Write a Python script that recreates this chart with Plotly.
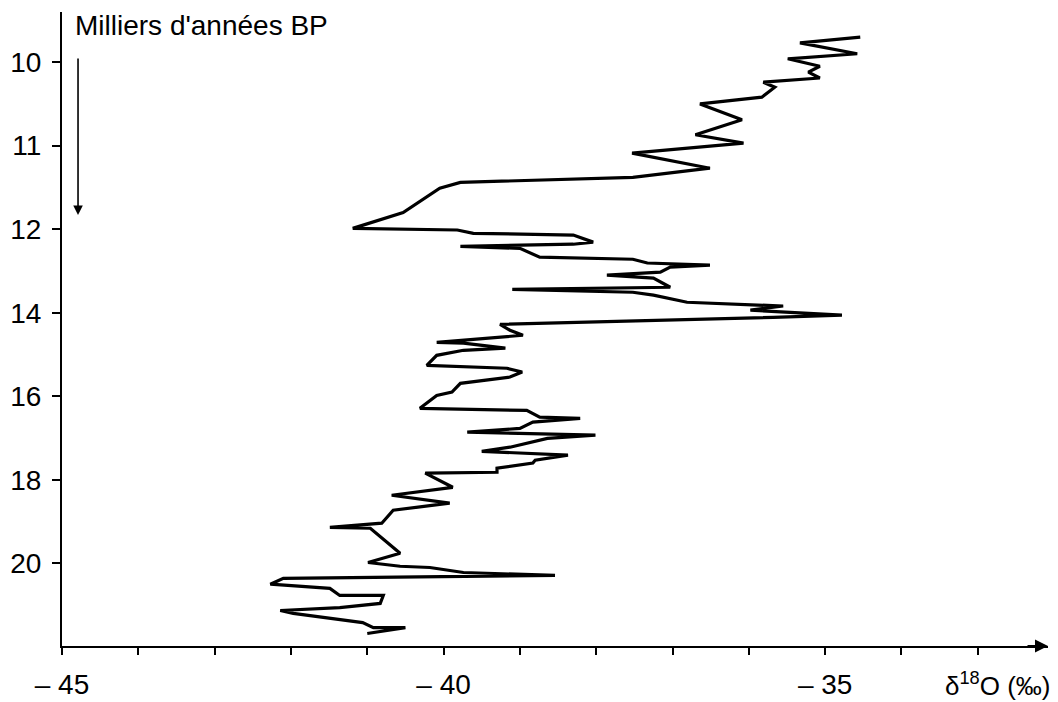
import plotly.graph_objects as go

# Age (thousands of years BP) and delta-18O (permil), top to bottom
age_ka = [
    9.70, 9.77, 9.90, 9.96, 10.05, 10.12, 10.19, 10.24, 10.30, 10.42,
    10.50, 10.69, 10.87, 10.97, 11.09, 11.27, 11.38, 11.44, 11.51, 11.80,
    11.99, 12.02, 12.10, 12.14, 12.31, 12.36, 12.41, 12.46, 12.67, 12.72,
    12.81, 12.86, 12.91, 13.03, 13.10, 13.17, 13.39, 13.44, 13.51, 13.58,
    13.75, 13.82, 13.84, 13.94, 14.06, 14.11, 14.28, 14.42, 14.54, 14.71,
    14.73, 14.85, 14.90, 15.02, 15.26, 15.33, 15.42, 15.54, 15.69, 15.90,
    15.98, 16.29, 16.34, 16.50, 16.53, 16.62, 16.77, 16.86, 16.89, 16.93,
    17.01, 17.22, 17.32, 17.37, 17.41, 17.53, 17.60, 17.72, 17.82, 17.84,
    18.18, 18.37, 18.56, 18.73, 19.04, 19.14, 19.16, 19.76, 19.98, 20.07,
    20.10, 20.22, 20.29, 20.36, 20.50, 20.60, 20.77, 20.77, 20.96, 21.06,
    21.13, 21.20, 21.42, 21.54, 21.54, 21.68,
]
d18o = [
    -34.54, -35.33, -34.58, -35.49, -35.07, -35.22, -35.07, -35.81, -35.66, -35.83,
    -36.64, -36.09, -36.70, -36.07, -37.53, -36.51, -37.52, -39.78, -40.05, -40.53,
    -41.19, -39.82, -39.61, -38.30, -38.04, -38.30, -39.78, -39.00, -38.74, -37.52,
    -37.33, -36.51, -37.03, -37.16, -37.86, -37.25, -37.03, -39.10, -37.52, -37.25,
    -36.81, -35.98, -35.55, -35.98, -34.78, -35.68, -39.26, -39.13, -38.96, -40.09,
    -39.74, -39.19, -39.74, -40.09, -40.22, -39.17, -38.97, -39.13, -39.78, -39.89,
    -40.09, -40.31, -38.91, -38.74, -38.21, -38.83, -39.00, -39.69, -39.04, -38.01,
    -38.64, -39.13, -39.50, -38.77, -38.37, -38.80, -38.83, -39.30, -39.30, -40.24,
    -39.88, -40.68, -39.92, -40.66, -40.81, -41.49, -40.96, -40.57, -40.99, -40.57,
    -40.18, -39.74, -38.54, -42.10, -42.27, -41.49, -41.36, -40.79, -40.83, -41.36,
    -42.14, -41.97, -41.06, -40.92, -40.50, -41.00,
]

y_tick_ages = [10, 11, 12, 14, 16, 18, 20]
x_tick_values = list(range(-45, -32))
x_tick_labels = ["– 45", "", "", "", "", "– 40", "", "", "", "", "– 35", "", ""]


def age_to_axis(a):
    # the time axis is stretched: 1 ka per unit down to 12 ka, then 2 ka per unit
    return a if a <= 12 else 12 + (a - 12) / 2


FONT = "Liberation Sans, Arial, Helvetica, sans-serif"
X_MIN, X_MAX = -45, -32.08
Y_TOP, Y_BOT = 9.40, 16.99

fig = go.Figure()
fig.add_trace(go.Scatter(
    x=d18o,
    y=[age_to_axis(a) for a in age_ka],
    mode="lines",
    line=dict(color="black", width=3.2),
    showlegend=False,
    hoverinfo="skip",
))

# the page body keeps an 8px offset, so the figure is sized to fit the window
fig.update_layout(
    width=1050, height=694,
    margin=dict(l=54, r=10, t=4, b=56),
    paper_bgcolor="white", plot_bgcolor="white",
    font=dict(family=FONT, color="black", size=28),
    xaxis=dict(
        range=[X_MIN, X_MAX], automargin=False,
        tickvals=x_tick_values, ticktext=x_tick_labels,
        showline=True, linecolor="black", linewidth=2,
        ticks="outside", ticklen=7, tickwidth=1.5, tickcolor="black",
        ticklabelstandoff=5,
        showgrid=False, zeroline=False,
        tickfont=dict(size=28, family=FONT),
    ),
    yaxis=dict(
        range=[Y_BOT, Y_TOP], automargin=False,
        tickvals=[age_to_axis(a) for a in y_tick_ages],
        ticktext=[str(a) for a in y_tick_ages],
        showline=True, linecolor="black", linewidth=2,
        ticks="outside", ticklen=8, tickwidth=1.5, tickcolor="black",
        ticklabelstandoff=5,
        showgrid=False, zeroline=False,
        tickfont=dict(size=28, family=FONT),
    ),
)

# arrow head at the end of the x axis
fig.add_annotation(
    xref="x", yref="paper", x=X_MAX, y=0,
    ax=-22, ay=0, text="", showarrow=True,
    arrowhead=2, arrowsize=1.3, arrowwidth=2, arrowcolor="black",
)

# x-axis title
fig.add_annotation(
    xref="paper", yref="paper", x=1.0, y=0, xanchor="right", yanchor="top",
    xshift=4, yshift=-20,
    text="δ<sup>18</sup>O (‰)", showarrow=False,
    font=dict(size=26, family=FONT),
)

# y-axis title and downward arrow
fig.add_annotation(
    xref="x", yref="paper", x=-44.84, y=1, xanchor="left", yanchor="top",
    yshift=3, borderpad=0,
    text="Milliers d'années BP", showarrow=False,
    font=dict(size=28, family=FONT),
)
fig.add_annotation(
    xref="x", yref="y", x=-44.79, y=11.83,
    axref="x", ayref="y", ax=-44.79, ay=9.94,
    text="", showarrow=True,
    arrowhead=2, arrowsize=1.2, arrowwidth=1.6, arrowcolor="black",
)

fig.write_html("out.html")
